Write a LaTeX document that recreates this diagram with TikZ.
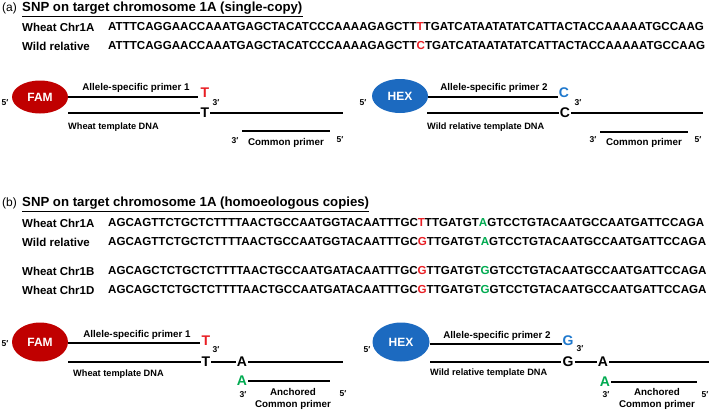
\documentclass[tikz,border=0pt]{standalone}
\usepackage{fontspec}
\setmainfont{Liberation Sans}
\usetikzlibrary{shapes.geometric}
\definecolor{famred}{RGB}{192,0,0}
\definecolor{snpred}{RGB}{232,30,36}
\definecolor{hexblue}{RGB}{28,106,192}
\definecolor{snpblue}{RGB}{30,120,205}
\definecolor{snpgreen}{RGB}{0,170,80}
\newcommand{\snpR}[1]{\textcolor{snpred}{#1}}
\newcommand{\snpGr}[1]{\textcolor{snpgreen}{#1}}
\begin{document}
\begin{tikzpicture}[x=1pt,y=-1pt,
  panel/.style={anchor=west,inner sep=0pt,font=\fontsize{12}{14}\selectfont},
  ttl/.style={anchor=west,inner sep=0pt,font=\bfseries\fontsize{13.2}{15}\selectfont},
  rowlab/.style={anchor=west,inner sep=0pt,font=\bfseries\fontsize{11.5}{13}\selectfont},
  seq/.style={anchor=west,inner sep=0pt,font=\bfseries\fontsize{11.6}{13}\selectfont},
  dye/.style={ellipse,inner sep=0pt,text=white,font=\bfseries\fontsize{12}{14}\selectfont},
  strand/.style={line width=2.2pt},
  plab/.style={inner sep=0pt,font=\bfseries\fontsize{9.8}{12}\selectfont},
  tlab/.style={anchor=west,inner sep=0pt,font=\bfseries\fontsize{9.2}{11}\selectfont},
  prime/.style={inner sep=0pt,font=\bfseries\fontsize{8.5}{10}\selectfont},
  base/.style={inner sep=1pt,font=\bfseries\fontsize{14}{16}\selectfont},
  ulin/.style={line width=1.1pt}
]
\useasboundingbox (0,0) rectangle (709,410);

% ---------------- (a) ----------------
\node[panel] (pa) at (2,8) {(a)};
\node[ttl] (ta) at (22,8) {SNP on target chromosome 1A (single-copy)};
\draw[ulin] ([yshift=-2pt]ta.south west) -- ([yshift=-2pt]ta.south east);

\node[rowlab] (a1l) at (22,27) {Wheat Chr1A};
\node[seq] (a1s) at (108,27) {ATTTCAGGAACCAAATGAGCTACATCCCAAAAGAGCTT\snpR{T}TGATCATAATATATCATTACTACCAAAAATGCCAAG};
\node[rowlab] (a2l) at (22,46) {Wild relative};
\node[seq] (a2s) at (108,46) {ATTTCAGGAACCAAATGAGCTACATCCCAAAAGAGCTT\snpR{C}TGATCATAATATATCATTACTACCAAAAATGCCAAG};

% left assay (a)
\node[prime] (a5l) at (5,103) {5′};
\node[dye,fill=famred,minimum width=56pt,minimum height=33pt] (famA) at (40,97) {FAM};
\coordinate (apr1) at (198,97);
\draw[strand] (famA.east |- apr1) -- (apr1);
\node[plab] (aprl1) at (136,88) {Allele-specific primer 1};
\node[base,text=snpred] (aT1) at (205,93) {T};
\node[prime] (a3p1) at (216,103) {3′};
\node[base] (aT2) at (205,113) {T};
\coordinate (atl0) at (68,113);
\coordinate (atl1) at (343,113);
\draw[strand] (atl0) -- (aT2.west);
\draw[strand] (aT2.east) -- (atl1);
\node[tlab] (atd1) at (68,127) {Wheat template DNA};
\coordinate (acp0) at (242,131);
\coordinate (acp1) at (330,131);
\draw[strand] (acp0) -- (acp1);
\node[prime] (a3c1) at (235,141) {3′};
\node[plab] (acl1) at (286,143) {Common primer};
\node[prime] (a5c1) at (340,140) {5′};

% right assay (a)
\node[prime] (a5r) at (363,103) {5′};
\node[dye,fill=hexblue,minimum width=56pt,minimum height=34pt] (hexA) at (400,96) {HEX};
\coordinate (apr2) at (558,97);
\draw[strand] (hexA.east |- apr2) -- (apr2);
\node[plab] (aprl2) at (494,88) {Allele-specific primer 2};
\node[base,text=snpblue] (aC1) at (564,93) {C};
\node[prime] (a3p2) at (578,103) {3′};
\node[base] (aC2) at (565,113) {C};
\coordinate (atr0) at (427,113);
\coordinate (atr1) at (703,113);
\draw[strand] (atr0) -- (aC2.west);
\draw[strand] (aC2.east) -- (atr1);
\node[tlab] (atd2) at (427,127) {Wild relative template DNA};
\coordinate (acp2) at (600,132);
\coordinate (acp3) at (688,132);
\draw[strand] (acp2) -- (acp3);
\node[prime] (a3c2) at (593,140) {3′};
\node[plab] (acl2) at (644,143) {Common primer};
\node[prime] (a5c2) at (698,140) {5′};

% ---------------- (b) ----------------
\node[panel] (pb) at (2,203) {(b)};
\node[ttl] (tb) at (22,203) {SNP on target chromosome 1A (homoeologous copies)};
\draw[ulin] ([yshift=-2pt]tb.south west) -- ([yshift=-2pt]tb.south east);

\node[rowlab] (b1l) at (22,223) {Wheat Chr1A};
\node[seq] (b1s) at (108,223) {AGCAGTTCTGCTCTTTTAACTGCCAATGGTACAATTTGC\snpR{T}TTGATGT\snpGr{A}GTCCTGTACAATGCCAATGATTCCAGA};
\node[rowlab] (b2l) at (22,242) {Wild relative};
\node[seq] (b2s) at (108,242) {AGCAGTTCTGCTCTTTTAACTGCCAATGGTACAATTTGC\snpR{G}TTGATGT\snpGr{A}GTCCTGTACAATGCCAATGATTCCAGA};
\node[rowlab] (b3l) at (22,271) {Wheat Chr1B};
\node[seq] (b3s) at (108,271) {AGCAGCTCTGCTCTTTTAACTGCCAATGATACAATTTGC\snpR{G}TTGATGT\snpGr{G}GTCCTGTACAATGCCAATGATTCCAGA};
\node[rowlab] (b4l) at (22,290) {Wheat Chr1D};
\node[seq] (b4s) at (108,290) {AGCAGCTCTGCTCTTTTAACTGCCAATGATACAATTTGC\snpR{G}TTGATGT\snpGr{G}GTCCTGTACAATGCCAATGATTCCAGA};

% left assay (b)
\node[prime] (b5l) at (5,344) {5′};
\node[dye,fill=famred,minimum width=56pt,minimum height=39pt] (famB) at (40,342) {FAM};
\coordinate (bpr1) at (200,343);
\draw[strand] (famB.east |- bpr1) -- (bpr1);
\node[plab] (bprl1) at (137,335) {Allele-specific primer 1};
\node[base,text=snpred] (bT1) at (206,341) {T};
\node[prime] (b3p1) at (216,350) {3′};
\node[base] (bT2) at (206,362) {T};
\node[base] (bA1) at (242,362) {A};
\coordinate (btl0) at (68,362);
\coordinate (btl1) at (343,362);
\draw[strand] (btl0) -- (bT2.west);
\draw[strand] (bT2.east) -- (bA1.west);
\draw[strand] (bA1.east) -- (btl1);
\node[tlab] (btd1) at (73,374) {Wheat template DNA};
\node[base,text=snpgreen] (bA2) at (242,381) {A};
\coordinate (bcp1) at (330,381);
\draw[strand] (bA2.east) -- (bcp1);
\node[prime] (b3c1) at (243,395) {3′};
\node[plab] (bacl1) at (293,392) {Anchored};
\node[plab] (bcl1) at (293,405) {Common primer};
\node[prime] (b5c1) at (343,394) {5′};

% right assay (b)
\node[prime] (b5r) at (367,350) {5′};
\node[dye,fill=hexblue,minimum width=57pt,minimum height=39pt] (hexB) at (401,342) {HEX};
\coordinate (bpr2) at (562,344);
\draw[strand] (hexB.east |- bpr2) -- (bpr2);
\node[plab] (bprl2) at (497,336) {Allele-specific primer 2};
\node[base,text=snpblue] (bG1) at (568,341) {G};
\node[prime] (b3p2) at (580,349) {3′};
\node[base] (bG2) at (568,362) {G};
\node[base] (bA3) at (603,362) {A};
\coordinate (btr0) at (430,362);
\coordinate (btr1) at (709,362);
\draw[strand] (btr0) -- (bG2.west);
\draw[strand] (bG2.east) -- (bA3.west);
\draw[strand] (bA3.east) -- (btr1);
\node[tlab] (btd2) at (430,373) {Wild relative template DNA};
\node[base,text=snpgreen] (bA4) at (605,382) {A};
\coordinate (bcp3) at (697,382);
\draw[strand] (bA4.east) -- (bcp3);
\node[prime] (b3c2) at (606,395) {3′};
\node[plab] (bacl2) at (657,392) {Anchored};
\node[plab] (bcl2) at (657,405) {Common primer};
\node[prime] (b5c2) at (705,395) {5′};
\end{tikzpicture}
\end{document}
